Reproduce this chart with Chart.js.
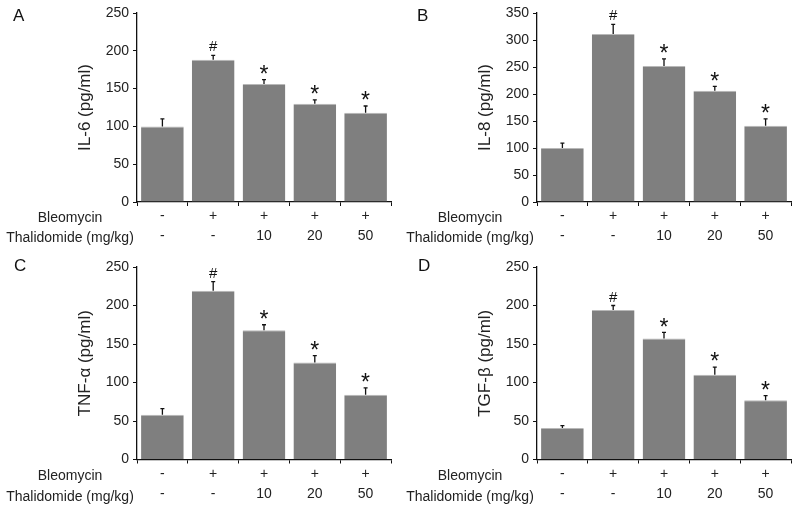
<!DOCTYPE html>
<html>
<head>
<meta charset="utf-8">
<script src="https://cdn.jsdelivr.net/npm/chart.js@4/dist/chart.umd.min.js"></script>
<style>
  body { margin:0; background:#fff; }
  #wrap { position:relative; width:800px; height:505px; }
  canvas { position:absolute; }
</style>
</head>
<body>
<div id="wrap">
  <canvas id="cA" width="400" height="250" style="left:0;top:0"></canvas>
  <canvas id="cB" width="400" height="250" style="left:400px;top:0"></canvas>
  <canvas id="cC" width="400" height="255" style="left:0;top:250px"></canvas>
  <canvas id="cD" width="400" height="255" style="left:400px;top:250px"></canvas>
</div>
<script>
// groups
var bleomycin = ["-", "+", "+", "+", "+"];
var thalidomide = ["-", "-", "10", "20", "50"];
var rowNames = ["Bleomycin", "Thalidomide (mg/kg)"];
var marks = ["", "#", "*", "*", "*"];

// values
var il6 = [100, 188, 156, 130, 118];
var il6Err = [10, 6, 6, 5, 9];
var il8 = [100, 311, 252, 206, 141];
var il8Err = [9, 18, 13, 8, 13];
var tnf = [58, 219, 168, 126, 84];
var tnfErr = [8, 12, 7, 9, 9];
var tgf = [41, 194, 157, 110, 77];
var tgfErr = [3, 6, 8, 10, 6];

var FONT = "'Liberation Sans', Arial, sans-serif";

var extras = {
  id: "extras",
  afterDatasetsDraw: function(chart, args, opts) {
    var ctx = chart.ctx;
    var x = chart.scales.x, y = chart.scales.y;
    var vals = chart.data.datasets[0].data;
    ctx.save();
    ctx.strokeStyle = "#111";
    ctx.fillStyle = "#111";
    ctx.lineWidth = 1.3;
    for (var i = 0; i < vals.length; i++) {
      var px = x.getPixelForValue(i);
      var y0 = y.getPixelForValue(vals[i]);
      var y1 = y.getPixelForValue(vals[i] + opts.err[i]);
      ctx.beginPath();
      ctx.moveTo(px, y0); ctx.lineTo(px, y1);
      ctx.moveTo(px - 2, y1); ctx.lineTo(px + 2, y1);
      ctx.stroke();
      if (marks[i]) {
        ctx.textAlign = "center";
        ctx.textBaseline = "middle";
        if (marks[i] == "#") {
          ctx.font = "15px " + FONT;
          ctx.fillText("#", px, y1 - 8);
        } else {
          ctx.font = "23px " + FONT;
          ctx.fillText("*", px, y1 - 4);
        }
      }
    }
    // row names under the axis
    ctx.font = "14px " + FONT;
    ctx.fillStyle = "#222";
    ctx.textAlign = "center";
    ctx.textBaseline = "middle";
    ctx.fillText(rowNames[0], 70, x.bottom - opts.rowOff[0]);
    ctx.fillText(rowNames[1], 70, x.bottom - opts.rowOff[1]);
    // panel letter
    ctx.font = "17px " + FONT;
    ctx.fillStyle = "#111";
    ctx.textAlign = "left";
    ctx.fillText(opts.letter, opts.letterX, opts.letterY);
    ctx.restore();
  }
};

function panel(id, letter, title, vals, errs, maxY, step, top, bottom, letterX) {
  var h = document.getElementById(id).height;
  var labels = [];
  for (var i = 0; i < vals.length; i++) labels.push([bleomycin[i], thalidomide[i]]);
  new Chart(id, {
    type: "bar",
    data: {
      labels: labels,
      datasets: [{
        data: vals,
        backgroundColor: "#7f7f7f",
        borderColor: "#b8b8b8",
        borderWidth: { top: 1, left: 0, right: 0, bottom: 0 },
        barPercentage: 0.84,
        categoryPercentage: 1.0
      }]
    },
    options: {
      responsive: false,
      animation: false,
      layout: { padding: { top: top, right: 9, left: 75, bottom: 0 } },
      plugins: {
        legend: { display: false },
        tooltip: { enabled: false },
        extras: { err: errs, letter: letter, letterX: letterX, letterY: 16, rowOff: [h - bottom - 16 - (h - 250) * 0.1, h - bottom - 36 - (h - 250) * 0.4] }
      },
      scales: {
        x: {
          offset: true,
          afterFit: function(s) { s.height = h - bottom; },
          border: { display: true, color: "#111", width: 1.3 },
          grid: { drawOnChartArea: false, drawTicks: true, tickLength: 4, color: "#111", lineWidth: 1, offset: true },
          ticks: { color: "#222", font: { family: FONT, size: 14, lineHeight: 1.45 }, padding: 0, maxRotation: 0 }
        },
        y: {
          min: 0, max: maxY,
          afterFit: function(s) { s.width = 62; },
          border: { display: true, color: "#111", width: 1.3 },
          grid: { drawOnChartArea: false, drawTicks: true, tickLength: 4, color: "#111" },
          ticks: { stepSize: step, color: "#222", font: { family: FONT, size: 14 }, padding: 4 },
          title: { display: true, text: title, color: "#222", font: { family: FONT, size: 17 }, padding: 0 }
        }
      }
    },
    plugins: [extras]
  });
}

panel("cA", "A", "IL-6 (pg/ml)", il6, il6Err, 250, 50, 13, 202, 13);
panel("cB", "B", "IL-8 (pg/ml)", il8, il8Err, 350, 50, 13, 202, 17);
panel("cC", "C", "TNF-\u03b1 (pg/ml)", tnf, tnfErr, 250, 50, 17, 209.5, 14);
panel("cD", "D", "TGF-\u03b2 (pg/ml)", tgf, tgfErr, 250, 50, 17, 209.5, 18);
</script>
</body>
</html>
